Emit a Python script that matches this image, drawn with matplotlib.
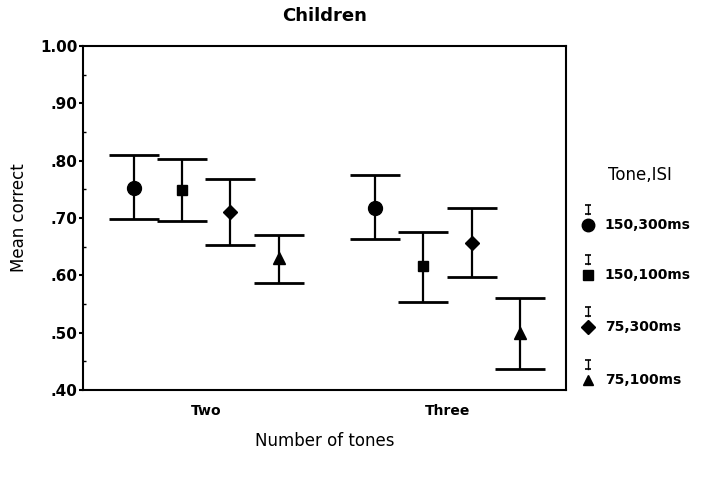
import numpy as np
import matplotlib.pyplot as plt
from matplotlib.ticker import MultipleLocator

# Data
categories = ['Two', 'Three']
series = ['150,300ms', '150,100ms', '75,300ms', '75,100ms']
markers = ['o', 's', 'D', '^']
msizes = [10, 7.5, 7.5, 8.5]
means = {
    '150,300ms': [0.752, 0.717],
    '150,100ms': [0.749, 0.616],
    '75,300ms': [0.711, 0.657],
    '75,100ms': [0.630, 0.499],
}
lower = {
    '150,300ms': [0.698, 0.663],
    '150,100ms': [0.695, 0.553],
    '75,300ms': [0.653, 0.597],
    '75,100ms': [0.586, 0.436],
}
upper = {
    '150,300ms': [0.809, 0.775],
    '150,100ms': [0.803, 0.675],
    '75,300ms': [0.768, 0.717],
    '75,100ms': [0.670, 0.560],
}
yticks = [0.40, 0.50, 0.60, 0.70, 0.80, 0.90, 1.00]
ytick_labels = ['.40', '.50', '.60', '.70', '.80', '.90', '1.00']

fig = plt.figure(figsize=(7.05, 4.78), dpi=100)
ax = fig.add_axes([0.1177, 0.184, 0.685, 0.72])

x = np.arange(len(categories))
offsets = [-0.3, -0.1, 0.1, 0.3]
for s, m, ms, off in zip(series, markers, msizes, offsets):
    mean = np.array(means[s])
    yerr = [mean - np.array(lower[s]), np.array(upper[s]) - mean]
    ax.errorbar(x + off, mean, yerr=yerr, fmt=m, color='black', ms=ms,
                elinewidth=1.6, capsize=18, capthick=2)

ax.set_xlim(-0.51, 1.49)
ax.set_ylim(0.40, 1.00)
ax.set_xticks(x)
ax.set_xticklabels(categories, fontsize=10, fontweight='bold')
ax.tick_params(axis='x', length=0, pad=10)
ax.set_yticks(yticks)
ax.set_yticklabels(ytick_labels, fontsize=11, fontweight='bold')
ax.yaxis.set_minor_locator(MultipleLocator(0.05))
ax.tick_params(axis='y', which='major', direction='out', length=3, width=1.5, pad=1)
ax.tick_params(axis='y', which='minor', direction='in', length=2, width=1)
for sp in ax.spines.values():
    sp.set_linewidth(1.5)

ax.set_title('Children', fontsize=13, fontweight='bold', pad=18)
ax.set_xlabel('Number of tones', fontsize=12, labelpad=10)
ax.set_ylabel('Mean correct', fontsize=12, labelpad=9)

# legend drawn by hand to match the original layout
fig.text(0.908, 0.634, 'Tone,ISI', fontsize=12, ha='center', va='center')
leg_y = [0.530, 0.425, 0.316, 0.205]
for s, m, ms, yy in zip(series, markers, msizes, leg_y):
    fig.add_artist(plt.Line2D([0.834], [yy], marker=m, color='black', ms=ms * 0.9,
                              transform=fig.transFigure))
    fig.add_artist(plt.Line2D([0.834, 0.834], [yy + 0.022, yy + 0.042], color='black',
                              lw=1, marker='_', ms=5, mew=1.2,
                              transform=fig.transFigure))
    fig.text(0.858, yy, s, fontsize=10, fontweight='bold', va='center')

fig.savefig('out.png', dpi=100)
